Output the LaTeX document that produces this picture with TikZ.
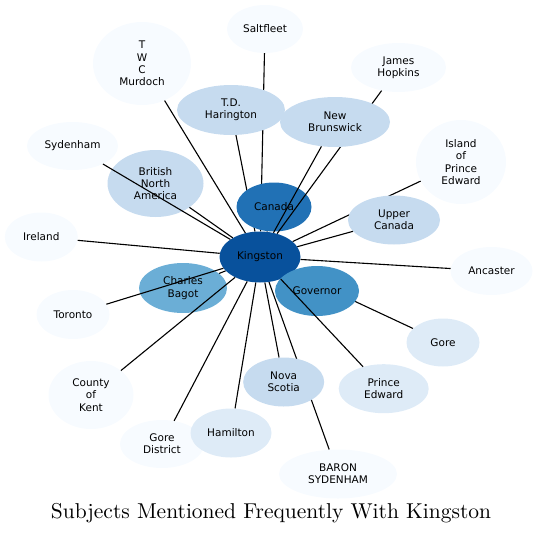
\documentclass[tikz,border=0pt]{standalone}
\usepackage{fontspec}
\newfontfamily\dejavu{DejaVu Sans}
\newfontfamily\titlefont{lmroman10-regular.otf}
\usetikzlibrary{shapes.geometric}
\pgfdeclarelayer{edgesbelow}
\pgfdeclarelayer{nodesA}
\pgfdeclarelayer{edgesmid}
\pgfdeclarelayer{nodesB}
\pgfsetlayers{edgesbelow,nodesA,edgesmid,nodesB,main}
\definecolor{b0}{HTML}{F7FBFF}
\definecolor{b1}{HTML}{DEEBF7}
\definecolor{b2}{HTML}{C6DBEF}
\definecolor{b4}{HTML}{6BAED6}
\definecolor{b5}{HTML}{4292C6}
\definecolor{b6}{HTML}{2171B5}
\definecolor{b7}{HTML}{08519C}
\tikzset{
  nd/.style={ellipse, inner sep=0pt, align=center, draw=none,
    font=\dejavu\fontsize{10.5}{12.2}\selectfont, text=black},
  ed/.style={draw=black, line width=1.1pt},
}
\begin{document}
\begin{tikzpicture}[x=1pt,y=-1pt]
\useasboundingbox (0,0) rectangle (537,535);
\begin{pgfonlayer}{nodesA}
\node[nd, fill=b0, minimum width=76pt, minimum height=48pt] (salt) at (265,29) {Saltfleet};
\node[nd, fill=b0, minimum width=98pt, minimum height=83pt] (murd) at (142,63.5) {T\\W\\C\\Murdoch};
\node[nd, fill=b0, minimum width=95pt, minimum height=49pt] (jh) at (398.5,67.5) {James\\Hopkins};
\node[nd, fill=b2, minimum width=108pt, minimum height=50pt] (tdh) at (231,110) {T.D.\\Harington};
\node[nd, fill=b0, minimum width=91pt, minimum height=48pt] (syd) at (72.5,146) {Sydenham};
\node[nd, fill=b0, minimum width=90pt, minimum height=84pt] (ipe) at (461,162) {Island\\of\\Prince\\Edward};
\node[nd, fill=b2, minimum width=96pt, minimum height=67pt] (bna) at (155.5,183.5) {British\\North\\America};
\node[nd, fill=b6, minimum width=75pt, minimum height=49pt] (can) at (274,207) {Canada};
\node[nd, fill=b2, minimum width=92pt, minimum height=49pt] (uc) at (394,220) {Upper\\Canada};
\node[nd, fill=b0, minimum width=73pt, minimum height=49pt] (ire) at (41.3,237) {Ireland};
\node[nd, fill=b7, minimum width=81pt, minimum height=51pt] (king) at (260,257) {Kingston};
\node[nd, fill=b0, minimum width=82pt, minimum height=48pt] (anc) at (491.5,271) {Ancaster};
\node[nd, fill=b4, minimum width=88pt, minimum height=50pt] (cb) at (183,288) {Charles\\Bagot};
\node[nd, fill=b5, minimum width=84pt, minimum height=50pt] (gov) at (317,291) {Governor};
\node[nd, fill=b0, minimum width=73pt, minimum height=49pt] (tor) at (73,314.5) {Toronto};
\node[nd, fill=b1, minimum width=73pt, minimum height=48pt] (gore) at (443,342.5) {Gore};
\node[nd, fill=b0, minimum width=85pt, minimum height=68pt] (kent) at (91,395) {County\\of\\Kent};
\node[nd, fill=b2, minimum width=81pt, minimum height=49pt] (ns) at (283.7,382) {Nova\\Scotia};
\node[nd, fill=b1, minimum width=90pt, minimum height=49pt] (pe) at (383.7,388.7) {Prince\\Edward};
\node[nd, fill=b0, minimum width=84pt, minimum height=48pt] (gd) at (162,444) {Gore\\District};
\node[nd, fill=b1, minimum width=81pt, minimum height=49pt] (ham) at (231,433) {Hamilton};
\node[nd, fill=b0, minimum width=118pt, minimum height=49pt] (baron) at (338,474) {BARON\\SYDENHAM};
\end{pgfonlayer}
\begin{pgfonlayer}{nodesB}
\node[nd, fill=b2, minimum width=110pt, minimum height=50pt] (nb) at (335,122) {New\\Brunswick};
\end{pgfonlayer}
\begin{pgfonlayer}{edgesbelow}
\draw[ed] (king) -- (salt);
\draw[ed] (king) -- (tdh);
\draw[ed] (king) -- (ipe);
\draw[ed] (king) -- (gore);
\draw[ed] (king) -- (baron);
\draw[ed] (king) -- (can);
\draw[ed] (king) -- (cb);
\draw[ed] (king) -- (gov);
\end{pgfonlayer}
\begin{pgfonlayer}{edgesmid}
\draw[ed] (king) -- (jh);
\end{pgfonlayer}
\draw[ed] (king) -- (murd);
\draw[ed] (king) -- (nb);
\draw[ed] (king) -- (syd);
\draw[ed] (king) -- (bna);
\draw[ed] (king) -- (uc);
\draw[ed] (king) -- (ire);
\draw[ed] (king) -- (anc);
\draw[ed] (king) -- (tor);
\draw[ed] (king) -- (kent);
\draw[ed] (king) -- (ns);
\draw[ed] (king) -- (pe);
\draw[ed] (king) -- (gd);
\draw[ed] (king) -- (ham);
\node[font=\titlefont\fontsize{21.5}{25}\selectfont, inner sep=0pt, anchor=base] (title) at (271,518.3) {Subjects Mentioned Frequently With Kingston};
\end{tikzpicture}
\end{document}
